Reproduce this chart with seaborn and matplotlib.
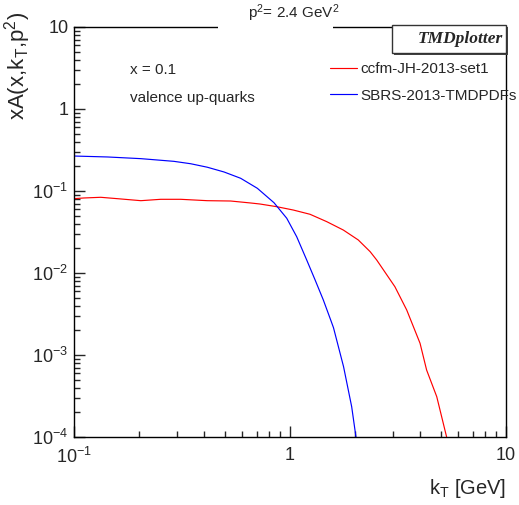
import matplotlib
matplotlib.use("Agg")
import matplotlib.pyplot as plt
import matplotlib.patches as patches
import pandas as pd
import seaborn as sns

# values
red_kt = [0.1, 0.111, 0.133, 0.159, 0.204, 0.252, 0.312, 0.414, 0.531, 0.658,
          0.726, 0.867, 1.036, 1.238, 1.479, 1.766, 2.07, 2.35, 2.52, 3.06,
          3.47, 4.0, 4.29, 4.78, 5.31]
red_val = [0.0806, 0.0822, 0.0838, 0.0806, 0.0762, 0.0792, 0.0792, 0.0762, 0.0755,
           0.0714, 0.0694, 0.0644, 0.0586, 0.0520, 0.0423, 0.0334, 0.0253, 0.0182,
           0.0144, 0.0068, 0.00354, 0.00139, 0.000656, 0.00031, 0.0001]
blue_kt = [0.1, 0.143, 0.204, 0.290, 0.347, 0.414, 0.495, 0.591, 0.706, 0.843,
           0.966, 1.074, 1.195, 1.305, 1.426, 1.549, 1.59, 1.77, 1.93, 2.02]
blue_val = [0.267, 0.260, 0.248, 0.230, 0.215, 0.195, 0.1706, 0.1429, 0.1079,
            0.0720, 0.0465, 0.0277, 0.0144, 0.0083, 0.0047, 0.0026, 0.00215,
            0.00072, 0.000234, 0.0001]
set_names = ["ccfm-JH-2013-set1", "SBRS-2013-TMDPDFs"]
x_ticks = [0.1, 1, 10]
x_ticklabels = ["10$^{-1}$", "1", "10"]
y_ticks = [1e-4, 1e-3, 1e-2, 1e-1, 1, 10]
y_ticklabels = ["10$^{-4}$", "10$^{-3}$", "10$^{-2}$", "10$^{-1}$", "1", "10"]

df = pd.concat([
    pd.DataFrame({"kt": red_kt, "val": red_val, "set": set_names[0]}),
    pd.DataFrame({"kt": blue_kt, "val": blue_val, "set": set_names[1]}),
], ignore_index=True)

sns.set_style("ticks")
plt.rcParams["font.family"] = ["Liberation Sans", "DejaVu Sans"]
plt.rcParams["mathtext.fontset"] = "custom"
plt.rcParams["mathtext.rm"] = "Liberation Sans"
plt.rcParams["mathtext.it"] = "Liberation Sans:italic"

W, H = 519, 505
fig = plt.figure(figsize=(W / 100, H / 100), dpi=100)
ax = fig.add_axes([74 / W, 1 - 437 / H, 432 / W, 410 / H])

sns.lineplot(data=df, x="kt", y="val", hue="set", estimator=None, sort=True,
             palette=["#ff0000", "#0000ff"], linewidth=0.85, ax=ax)

ax.set_xscale("log")
ax.set_yscale("log")
ax.set_xlim(0.1, 10)
ax.set_ylim(1e-4, 10)
ax.set_xticks(x_ticks)
ax.set_xticklabels(x_ticklabels, fontsize=13)
ax.set_yticks(y_ticks)
ax.set_yticklabels(y_ticklabels, fontsize=13)
ax.tick_params(which="major", direction="in", length=8, width=1)
ax.tick_params(which="minor", direction="in", length=4, width=1)
ax.tick_params(axis="y", which="major", pad=4)
ax.tick_params(axis="x", which="major", pad=7)
ax.set_xlabel("")
ax.set_ylabel("")
for s in ax.spines.values():
    s.set_linewidth(1.0)
    s.set_color("black")

leg = ax.legend(loc="upper left", bbox_to_anchor=(330 / W, 1 - 62 / H),
                bbox_transform=fig.transFigure, frameon=False, fontsize=11,
                handlelength=1.77, handletextpad=0.2, labelspacing=0.83,
                borderpad=0, borderaxespad=0)
for line in leg.get_lines():
    line.set_linewidth(0.85)

fig.text(130 / W, 1 - 70 / H, "x = 0.1", fontsize=11, va="center")
fig.text(130 / W, 1 - 98 / H, "valence up-quarks", fontsize=11, va="center")

# axis titles
fig.text(18 / W, 1 - 12 / H, r"xA(x,k$_\mathrm{T}$,p$^2$)", fontsize=16,
         rotation=90, ha="center", va="top")
fig.text(506 / W, 1 - 489 / H, r"k$_\mathrm{T}$ [GeV]", fontsize=14.5,
         ha="right", va="center")

# title box covering the frame
fig.patches.append(patches.Rectangle((218 / W, 1 - 29 / H), 115 / W, 29 / H,
                                     transform=fig.transFigure, facecolor="white",
                                     edgecolor="none", zorder=5))
fig.text(294 / W, 1 - 13 / H, "p$^2$= 2.4 GeV$^2$", fontsize=11, ha="center",
         va="center", zorder=6)

# TMDplotter tag
fig.patches.append(patches.Rectangle((394 / W, 1 - 55 / H), 114 / W, 28 / H,
                                     transform=fig.transFigure, facecolor="#444444",
                                     edgecolor="none", zorder=5))
fig.patches.append(patches.Rectangle((392 / W, 1 - 53 / H), 114 / W, 28 / H,
                                     transform=fig.transFigure, facecolor="white",
                                     edgecolor="#333333", linewidth=1, zorder=6))
fig.text(503 / W, 1 - 39 / H, "TMDplotter", fontsize=12.5, ha="right", va="center",
         family="Liberation Serif", style="italic", weight="bold", zorder=7)

fig.savefig("out.png", dpi=100)
